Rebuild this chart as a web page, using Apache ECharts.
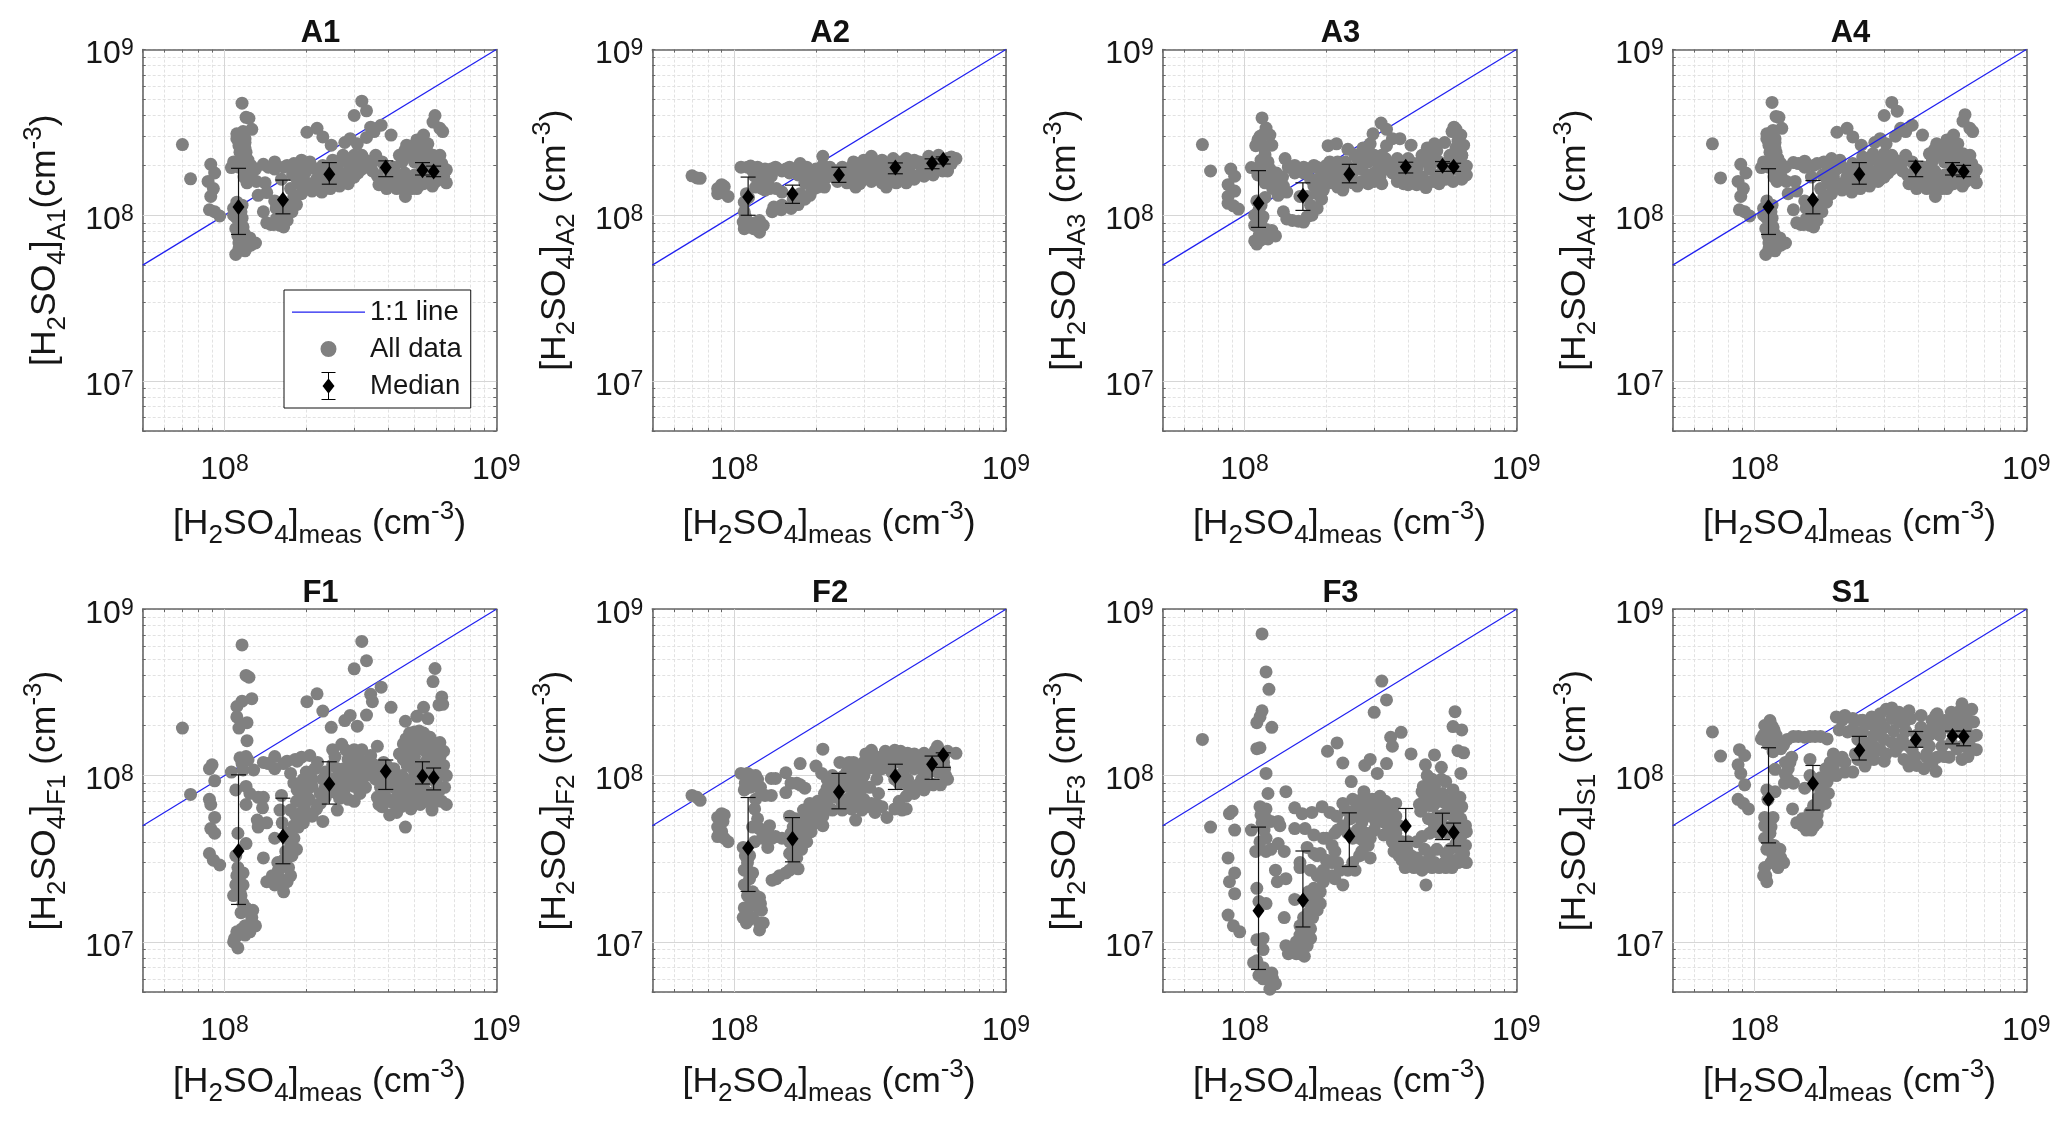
<!DOCTYPE html>
<html><head><meta charset="utf-8">
<script src="https://cdn.jsdelivr.net/npm/echarts@6/dist/echarts.min.js"></script>
<style>html,body{margin:0;padding:0;background:#fff}#c{width:2067px;height:1130px}</style>
</head><body><div id="c"></div>
<script>
// All concentrations below are in units of 1e8 cm^-3
const UNIT = 1e8;
const panelNames = ['A1','A2','A3','A4','F1','F2','F3','S1'];
const xMedian = [1.126,1.64,2.43,3.92,5.35,5.88];

const ptsA1 = [[.7,2.67],[.75,1.66],[.89,2.03],[.92,1.8],[.87,1.6],[.91,1.45],[.89,1.3],[.88,1.08],[.92,1.05],[.96,.99],[1.16,4.75],[1.2,3.9],[1.23,3.85],[1.26,3.3],[1.11,3.1],[1.17,3.2],[1.11,2.9],[1.19,2.75],[1.13,2.63],[1.19,2.55],[1.16,2.15],[1.22,2.15],[1.06,1.94],[1.13,1.95],[1.19,1.9],[1.21,1.57],[1.26,1.68],[1.31,1.6],[1.33,1.32],[1.43,1.37],[1.41,1.57],[1.3,1.9],[1.39,2.03],[1.53,2.1],[1.53,1.9],[1.7,2],[1.8,2.05],[1.92,2.15],[2.06,2.1],[1.62,1.65],[1.39,1.05],[1.53,1.22],[1.43,.9],[1.52,.88],[1.65,.85],[1.7,.93],[1.77,1.05],[1.84,1.16],[1.92,1.35],[2,1.57],[2.1,1.4],[2.28,1.38],[1.95,1.72],[1.87,1.57],[2.18,1.65],[1.11,1.2],[1.11,.96],[1.16,.96],[1.17,.85],[1.1,.83],[1.14,.71],[1.24,.73],[1.3,.68],[1.22,.65],[1.1,.58],[1.13,.63],[1.19,.61],[2.01,3.17],[2.19,3.35],[2.3,2.97],[2.47,2.65],[3.2,4.88],[3.33,4.27],[3,4],[3.77,3.5],[3.45,3.4],[3.33,2.95],[3.55,3.2],[4.1,3.05],[2.9,2.9],[2.77,2.75],[3.08,2.7],[2.5,2.15],[2.73,2.3],[3,2.3],[3.2,2.3],[2.6,1.9],[2.8,1.8],[3,2],[3.2,1.9],[3.4,1.95],[3.6,2.3],[2.5,1.65],[2.7,1.65],[2.3,1.75],[3.65,1.73],[3.7,1.53],[3.95,1.45],[4.3,1.45],[4.63,1.3],[4.05,1.8],[4.4,1.72],[4.8,1.6],[5.25,1.53],[5.82,1.5],[6.55,1.57],[6.55,1.88],[6.2,1.72],[5.7,1.72],[5.25,1.8],[6.2,2.3],[5.85,2.1],[5.4,2.1],[5,2.1],[4.5,2.1],[4.4,2.3],[4.68,2.65],[5.1,2.85],[5.4,3.05],[5.1,2.45],[5.55,2.45],[5.85,2.3],[5.95,4],[5.85,3.65],[6.2,3.35],[6.35,3.2]];
const fillA1 = [[2.2,1.85],[2.1,1.95],[2,1.85],[2.3,2],[2.4,1.9],[2.2,1.55],[2.35,1.55],[2.45,1.45],[2.55,1.55],[2.6,1.7],[2.65,2.1],[2.85,2.1],[2.95,1.9],[2.9,1.65],[3.1,2.1],[3.1,1.8],[3.3,2.15],[3.3,2],[3.5,2.1],[3.5,1.85],[2.65,1.5],[2.85,1.55],[3,1.7],[3.8,2.1],[3.9,1.95],[3.8,1.6],[4.1,1.55],[4.2,1.95],[4.3,1.65],[4.55,1.5],[4.6,1.8],[4.9,1.45],[5.1,1.45],[5,1.75],[5.4,1.55],[5.6,1.95],[5.6,1.6],[6,1.6],[6,1.85],[6.4,1.72],[6,2.1],[6.3,2.05],[5.2,2.3],[4.8,2.3],[5.6,2.7],[5.3,2.7],[4.9,2.6],[4.6,2.45],[5.7,2.15],[1.85,1.95],[1.65,1.95],[1.45,1.95],[1.25,2],[2,2],[1.95,1.9],[1.78,1.75],[1.85,1.65],[1.75,1.45],[1.8,1.3],[1.7,1.15],[1.65,1.05],[1.55,.95],[1.6,.87],[1.48,.88],[1.55,1.1],[1.15,3],[1.15,2.7],[1.19,2.9],[1.08,2.1],[1.2,2.4],[1.14,2.4],[1.25,1.85],[1.18,1.7],[1.08,1.1],[1.16,1.15],[1.08,1],[1.15,1.05],[1.14,.88],[1.12,.75],[1.18,.78],[1.17,.67],[1.25,.66],[1.13,.68]];
const ptsA2 = [[.7,1.73],[.73,1.68],[.75,1.67],[.9,1.53],[.87,1.45],[.92,1.49],[.87,1.35],[.95,1.3],[.91,1.4],[1.06,1.95],[1.12,1.95],[1.22,1.95],[1.19,1.72],[1.26,1.57],[1.2,1.48],[1.3,1.42],[1.37,1.9],[1.45,1.9],[1.55,1.9],[1.37,1.72],[1.33,1.57],[1.43,1.45],[1.5,1.38],[1.75,2.05],[1.6,1.8],[1.72,1.75],[1.87,1.8],[2,1.9],[2.12,2.27],[2.12,2],[1.11,1.35],[1.09,1.2],[1.09,1.05],[1.08,.91],[1.09,.83],[1.16,.87],[1.24,.93],[1.28,.87],[1.24,.79],[1.38,1.05],[1.49,1.08],[1.62,1.1],[1.72,1.16],[1.82,1.25],[1.9,1.32],[1.92,1.48],[1.82,1.57],[2.03,1.48],[2.15,1.48],[1.98,1.65],[2.2,1.7],[2.25,1.95],[2.4,1.72],[2.4,1.6],[2.6,1.57],[2.8,1.48],[2.6,1.8],[2.75,2.1],[2.95,2.05],[2.9,1.72],[3.1,1.72],[3.2,2.27],[3.4,2.1],[3.63,1.48],[3.4,1.72],[3.7,1.72],[3.5,1.57],[3.95,1.57],[4.3,1.57],[4.6,1.65],[5,1.72],[5.4,1.75],[6.1,1.85],[3.85,2.2],[4.3,2.2],[4.6,2.15],[5.2,2.27],[5.65,2.3],[6.1,2.2],[6.55,2.2],[4.4,1.9],[4.9,1.95],[5.65,2],[4.05,1.9]];
const fillA2 = [[2.3,1.75],[2.5,1.95],[2.5,1.7],[2.7,1.95],[2.7,1.65],[2.85,1.85],[2.9,1.55],[3,1.95],[3,2.15],[3.2,1.95],[3.2,1.6],[3.3,1.85],[3.5,2.15],[3.5,1.95],[3.6,1.8],[3.8,2],[3.85,1.7],[4.1,2.1],[4.15,1.75],[4.5,2.05],[4.5,1.75],[4.8,2.1],[4.8,1.75],[5.1,2.05],[5.3,1.95],[5.5,2.15],[5.8,2.05],[5.85,1.85],[6.3,2.05],[6.3,2.25],[2.2,1.9],[2.35,1.85],[1.15,1.98],[1.17,1.85],[1.25,1.75],[1.3,1.9],[1.3,1.6],[1.42,1.95],[1.5,1.85],[1.6,1.95],[1.68,1.9],[1.85,1.95],[1.9,1.65],[2.05,1.7],[2.05,1.6],[1.97,1.45],[1.75,1.35],[1.65,1.25],[1.5,1.15],[1.4,1.12],[1.1,.98],[1.13,.91],[1.2,.9],[1.18,.83],[1.13,1.28],[1.35,1.45],[1.27,1.45]];
const ptsA3 = [[.7,2.67],[.75,1.85],[.89,1.9],[.92,1.72],[.87,1.53],[.92,1.4],[.87,1.18],[.95,1.09],[.91,1.14],[.87,1.3],[1.16,3.87],[1.2,3.36],[1.14,3],[1.24,3.05],[1.1,2.63],[1.26,2.65],[1.19,2.32],[1.41,2.2],[1.06,1.94],[1.14,1.95],[1.24,1.9],[1.19,1.57],[1.31,1.8],[1.35,1.6],[1.39,1.5],[1.33,1.32],[1.43,1.38],[1.11,1.22],[1.19,1.28],[1.09,1],[1.17,.98],[1.09,.87],[1.14,.8],[1.26,.81],[1.3,.75],[1.22,.72],[1.11,.67],[1.15,.71],[1.53,2],[1.53,1.8],[1.65,1.95],[1.8,2],[1.85,1.95],[2.06,2.1],[2.2,2.1],[1.39,1.05],[1.43,.95],[1.58,.92],[1.65,.91],[1.77,1],[1.85,1.1],[1.92,1.25],[1.95,1.42],[1.6,1.3],[1.85,1.65],[1.95,1.72],[2.05,1.57],[1.9,1.53],[2.3,1.42],[2.2,1.48],[2.03,2.63],[2.18,2.7],[2.4,2.5],[2.55,2.32],[2.73,2.55],[2.97,3.1],[3.18,3.6],[3.33,3.3],[3.5,2.9],[3.73,2.9],[4.1,2.65],[3.33,2.63],[2.9,2.7],[2.6,2.2],[3,2.3],[3.3,2.2],[2.7,1.9],[3,1.8],[3.3,1.9],[2.7,1.6],[3,1.6],[2.5,1.8],[2.5,1.57],[3.5,1.8],[3.65,2.2],[4,2.2],[3.65,1.6],[4,1.53],[4.3,1.53],[4.65,1.47],[5,1.6],[5.5,1.65],[5.85,1.6],[6.55,1.75],[6.55,1.98],[6,1.9],[5.4,1.9],[4.8,1.9],[4.3,1.9],[4.7,2.55],[5.45,2.75],[5.1,2.45],[5.7,2.3],[6.3,2.3],[5.8,3.2],[5.9,3.4],[6.25,3.05],[6.4,2.65],[6,2.55]];
const fillA3 = [[2.1,1.9],[2.2,1.9],[2.35,2.1],[2.4,1.95],[2.3,1.7],[2.15,1.7],[2.4,1.6],[2.6,1.5],[2.6,1.95],[2.8,2.4],[2.85,2.1],[2.85,1.75],[2.85,1.55],[3.1,2.05],[3.15,1.7],[3.2,2.3],[3.45,2.05],[3.2,1.55],[3.7,1.95],[3.9,1.95],[3.85,1.7],[3.85,1.55],[4.1,1.75],[4.2,2.05],[4.5,2.3],[4.5,1.7],[4.45,2.1],[4.8,2.4],[4.8,2.15],[4.85,1.6],[5.1,1.75],[5.2,2.1],[5.2,1.55],[5.6,2.05],[5.6,1.75],[6,2.1],[6.2,1.85],[6.3,1.65],[6,3.3],[6.1,2.8],[6.3,2.3],[5,2.7],[1.45,1.95],[1.65,1.8],[1.72,1.9],[1.95,1.9],[2,2],[1.75,1.65],[1.7,1.3],[1.8,1.5],[1.5,.93],[1.7,.98],[1.75,1.15],[1.85,1.35],[1.15,2.75],[1.18,3.1],[1.12,2.85],[1.18,2.55],[1.22,2.1],[1.15,2.15],[1.2,1.75],[1.28,1.65],[1.12,1.75],[1.27,1.45],[1.38,1.7],[1.15,1.15],[1.13,1.08],[1.15,.92],[1.12,.85],[1.2,.74],[1.13,.75],[1.2,.82],[1.09,.7]];
const ptsA4 = [[.7,2.7],[.75,1.68],[.89,2.03],[.93,1.8],[.87,1.6],[.91,1.45],[.89,1.3],[.88,1.08],[.92,1.05],[.96,.99],[1.16,4.8],[1.2,3.95],[1.23,3.9],[1.26,3.35],[1.11,3.1],[1.17,3.25],[1.11,2.9],[1.19,2.75],[1.13,2.65],[1.19,2.55],[1.16,2.2],[1.22,2.2],[1.06,1.94],[1.13,1.95],[1.19,1.9],[1.21,1.6],[1.26,1.68],[1.31,1.6],[1.33,1.35],[1.43,1.4],[1.41,1.6],[1.3,1.95],[1.39,2.08],[1.53,2.12],[1.53,1.95],[1.7,2.05],[1.8,2.1],[1.92,2.2],[2.06,2.15],[1.62,1.7],[1.39,1.08],[1.53,1.22],[1.43,.9],[1.52,.88],[1.65,.85],[1.7,.93],[1.77,1.05],[1.84,1.2],[1.92,1.35],[2,1.57],[2.1,1.42],[2.28,1.38],[1.95,1.72],[1.87,1.57],[2.18,1.68],[1.11,1.22],[1.11,.96],[1.16,.96],[1.17,.85],[1.1,.83],[1.14,.71],[1.24,.73],[1.3,.68],[1.22,.65],[1.1,.58],[1.13,.63],[1.19,.61],[2.01,3.17],[2.19,3.35],[2.3,2.97],[2.47,2.65],[3.2,4.8],[3.35,4.25],[3,4],[3.8,3.5],[3.45,3.35],[3.3,3],[3.6,3.2],[4.15,3.05],[2.9,2.9],[2.77,2.75],[3.05,2.7],[2.5,2.25],[2.73,2.35],[3,2.35],[3.2,2.3],[2.6,1.95],[2.8,1.85],[3,2],[3.2,1.9],[3.4,2],[3.6,2.3],[2.5,1.7],[2.7,1.7],[2.3,1.75],[3.65,1.75],[3.7,1.55],[3.95,1.45],[4.3,1.45],[4.63,1.3],[4.05,1.8],[4.4,1.72],[4.8,1.6],[5.25,1.53],[5.82,1.5],[6.55,1.57],[6.55,1.88],[6.2,1.72],[5.7,1.72],[5.25,1.8],[6.2,2.3],[5.85,2.1],[5.4,2.1],[5,2.1],[4.5,2.1],[4.4,2.35],[4.68,2.7],[5.1,2.85],[5.4,3.05],[5.1,2.45],[5.55,2.45],[5.85,2.35],[5.95,4.05],[5.85,3.7],[6.2,3.35],[6.35,3.2]];
const fillA4 = [[2.2,1.9],[2.1,1.95],[2,1.9],[2.3,2.05],[2.4,1.95],[2.2,1.55],[2.35,1.6],[2.45,1.45],[2.55,1.55],[2.6,1.75],[2.65,2.15],[2.85,2.15],[2.95,1.9],[2.9,1.65],[3.1,2.15],[3.1,1.8],[3.3,2.15],[3.3,2.05],[3.5,2.1],[3.5,1.85],[2.65,1.5],[2.85,1.6],[3,1.7],[3.8,2.1],[3.9,1.95],[3.8,1.6],[4.1,1.55],[4.2,1.95],[4.3,1.65],[4.55,1.5],[4.6,1.85],[4.9,1.45],[5.1,1.45],[5,1.75],[5.4,1.55],[5.6,1.95],[5.6,1.6],[6,1.6],[6,1.85],[6.4,1.72],[6,2.1],[6.3,2.05],[5.2,2.3],[4.8,2.3],[5.6,2.7],[5.3,2.7],[4.9,2.6],[4.6,2.5],[5.7,2.15],[1.85,2],[1.65,2],[1.45,2.05],[1.25,2.05],[2,2.05],[1.95,1.9],[1.78,1.75],[1.85,1.65],[1.75,1.45],[1.8,1.3],[1.7,1.15],[1.65,1.05],[1.55,.95],[1.6,.87],[1.48,.88],[1.55,1.1],[1.15,3],[1.15,2.7],[1.19,2.9],[1.08,2.1],[1.2,2.4],[1.14,2.4],[1.25,1.85],[1.18,1.7],[1.08,1.1],[1.16,1.15],[1.08,1],[1.15,1.05],[1.14,.88],[1.12,.75],[1.18,.78],[1.17,.67],[1.25,.66],[1.13,.68]];
const ptsF1 = [[.7,1.93],[.75,.77],[.9,1.16],[.88,1.1],[.92,.93],[.88,.72],[.89,.67],[.92,.56],[.89,.48],[.92,.45],[.88,.34],[.91,.31],[.96,.29],[1.16,6.1],[1.2,4],[1.23,3.9],[1.26,2.9],[1.16,2.8],[1.11,2.6],[1.11,2.25],[1.21,2.08],[1.13,1.93],[1.21,1.62],[1.14,1.28],[1.22,1.24],[1.06,1.05],[1.17,1.08],[1.28,1.08],[1.1,.82],[1.2,.86],[1.24,.78],[1.2,.67],[1.33,.74],[1.39,.74],[1.38,.64],[1.32,.54],[1.43,.52],[1.33,.49],[1.12,.45],[1.2,.39],[1.39,.32],[1.1,.33],[1.17,.26],[1.11,.25],[1.17,.22],[1.08,.19],[1.15,.19],[1.22,.155],[1.26,.14],[1.3,.125],[1.15,.15],[1.24,.115],[1.11,.115],[1.08,.1],[1.12,.092],[1.19,.125],[1.39,1.2],[1.53,1.3],[1.53,1.1],[1.7,1.22],[1.82,1.25],[1.92,1.29],[2.06,1.32],[1.75,1.03],[1.62,.76],[1.6,.62],[1.53,.42],[1.63,.52],[1.43,.23],[1.53,.22],[1.65,.2],[1.7,.23],[1.58,.27],[1.65,.31],[1.57,.3],[1.77,.33],[1.84,.36],[1.8,.42],[1.87,.49],[1.95,.52],[2.1,.57],[2.3,.53],[2.18,.63],[1.84,.7],[1.92,.78],[1.8,.9],[2.1,.86],[1.97,.67],[2.25,.78],[2.01,2.78],[2.19,3.1],[2.3,2.44],[2.47,1.95],[3.2,6.4],[3.33,4.9],[3,4.38],[3.77,3.4],[3.45,3.08],[3.5,2.78],[3.33,2.31],[4.1,2.57],[2.9,2.3],[2.77,2.14],[3.08,1.98],[4.63,2.12],[5.1,2.27],[5.4,2.57],[5.6,2.2],[5.95,4.4],[5.85,3.67],[6.3,2.97],[6.35,2.68],[6.15,2.66],[2.5,1.43],[2.7,1.54],[3,1.43],[3.2,1.43],[3.65,1.5],[2.5,1.16],[2.85,1.25],[3.2,1.22],[3.55,1.16],[3.85,1.2],[2.65,1],[3,1.05],[3,.86],[3,.7],[2.6,.62],[2.35,.74],[2.8,.86],[3.3,1],[3.65,.74],[3.7,.67],[4.05,.58],[4.3,.6],[4.63,.49],[4,.86],[4.3,.74],[4.85,.63],[5.25,.67],[5.8,.62],[6.55,.67],[6.55,1],[6.2,.82],[5.7,.78],[5.2,.78],[4.5,1],[4.4,1.35],[5,1.83],[4.65,1.66],[5.4,1.8],[5.85,1.58],[6.2,1.58],[6.2,1.29],[5.6,1.29],[5.1,1.43],[5.75,1.1],[4.2,1.1],[4.85,.82]];
const fillF1 = [[2,1.05],[2.2,1.2],[2.35,1.05],[2.1,.95],[2.05,.72],[2.25,.68],[2.4,.9],[2.5,.8],[2.75,1.1],[2.85,.95],[2.9,1.1],[3.1,1.3],[3.2,1.05],[3.3,.85],[3.4,1.2],[3.5,1],[3.15,.78],[2.85,.72],[2.65,.73],[2.5,.95],[3.6,.95],[3.8,.95],[3.9,.75],[3.85,1.05],[3.8,.65],[4.2,.85],[4.1,1],[4.3,.95],[4.45,.65],[4.5,.85],[4.65,.75],[4.7,1.15],[4.9,.95],[5.05,.72],[5.3,.9],[5.5,.7],[5.5,1.05],[6,.7],[6,.92],[6.3,.7],[6.45,.85],[6.4,1.15],[5.9,1.15],[5.3,1.15],[5,1.3],[4.7,1.4],[4.55,1.55],[4.9,1.55],[5.3,1.6],[5.6,1.55],[5.9,1.35],[5.2,1.85],[4.8,1.8],[6.4,1.4],[1.95,.95],[1.82,.58],[2,.6],[1.75,.62],[1.92,.6],[1.8,.5],[1.75,.39],[1.7,.45],[1.68,.35],[1.72,.28],[1.6,.24],[1.5,.25],[1.62,.22],[1.75,.25],[1.85,.82],[1.95,.85],[1.85,1.22],[1.65,1.18],[1.45,1.18],[1.2,1.3],[1.16,1.18],[1.1,.22],[1.14,.2],[1.17,.17],[1.2,.16],[1.27,.155],[1.27,.125],[1.19,.11],[1.12,.11],[1.09,.105],[1.16,.12],[1.12,.28],[2.15,1.1],[2.3,.95],[2.35,.85],[2.6,1.1],[2.6,.88],[2.75,.8],[2.95,.95],[3.05,1.15],[3.2,.92],[3.35,1.1],[3.45,1.32],[2.55,1.3],[2.8,1.42],[2.95,1.3],[3.6,1.08],[3.75,.85],[3.95,1.15],[4,.7],[4.2,.68],[4.4,.75],[4.4,.95],[4.6,.9],[4.8,.72],[5,.85],[5.2,1],[5.45,.82],[5.7,.95],[5.95,.8],[6.1,1.05],[5,1.05],[4.55,1.25],[4.85,1.2],[5.5,1.4],[5.7,1.7],[5.1,1.65],[6,1.5],[5.5,1.2],[2,.8],[1.88,.72]];
const ptsF2 = [[.7,.76],[.73,.74],[.75,.71],[.9,.59],[.92,.58],[.87,.56],[.87,.49],[.91,.53],[.9,.46],[.87,.43],[.92,.42],[.95,.4],[1.06,1.03],[1.12,1.03],[1.22,.95],[1.09,.82],[1.17,.86],[1.26,.78],[1.37,.96],[1.55,1.04],[1.37,.76],[1.55,.79],[1.62,.9],[1.75,1.18],[1.75,.88],[1.82,.84],[1.19,.63],[1.17,.49],[1.24,.48],[1.33,.46],[1.38,.42],[1.33,.37],[1.5,.42],[1.19,.4],[1.08,.37],[1.14,.33],[1.09,.27],[1.17,.26],[1.09,.22],[1.12,.19],[1.24,.185],[1.09,.16],[1.08,.14],[1.11,.13],[1.17,.14],[1.26,.155],[1.28,.13],[1.24,.118],[1.38,.235],[1.47,.25],[1.6,.27],[1.72,.275],[1.6,.34],[1.6,.4],[1.65,.49],[1.6,.57],[1.77,.36],[1.85,.4],[1.87,.46],[1.87,.57],[2,.52],[2.12,.5],[1.9,.68],[2.03,.7],[2.2,.84],[2.12,.57],[2.12,1.44],[2,1.14],[2.1,1.03],[2.3,1],[2.45,1.2],[2.3,.62],[2.5,.62],[2.35,.74],[2.7,.63],[2.8,.54],[2.95,.62],[2.8,.7],[2.8,.86],[3,.86],[2.75,1.2],[3,1.2],[3.2,1.42],[3.5,1.3],[3.9,1.42],[2.8,1],[3,1],[3.35,.67],[3.65,.56],[3.9,.63],[4.3,.63],[4.05,.7],[3.4,.78],[3.5,1.1],[4.05,.9],[4.35,1.36],[4.35,.95],[4.6,.78],[4.9,.95],[5,1.36],[4.6,1.1],[5.4,.88],[5.75,.88],[6.1,.95],[5.6,1.5],[6.1,1.4],[6.55,1.36],[5.25,1.2],[5.95,1.1]];
const fillF2 = [[1.15,1],[1.1,.9],[1.2,1],[1.25,.85],[1.3,.76],[1.42,.96],[1.7,.9],[1.14,.85],[1.2,.72],[1.22,.55],[1.27,.46],[1.35,.5],[1.42,.43],[1.27,.42],[1.12,.3],[1.14,.24],[1.1,.33],[1.12,.27],[1.17,.2],[1.2,.19],[1.12,.16],[1.2,.165],[1.15,.17],[1.25,.17],[1.13,.135],[1.24,.13],[1.43,.24],[1.55,.26],[1.66,.29],[1.65,.32],[1.7,.32],[1.65,.37],[1.62,.45],[1.72,.42],[1.72,.52],[1.78,.47],[1.68,.55],[1.8,.55],[1.92,.46],[1.95,.58],[1.95,.64],[2.07,.62],[2.12,.64],[2.2,.7],[2.3,.76],[2.4,.88],[2.2,.95],[2.5,.98],[2.6,.95],[2.6,.86],[2.9,.78],[2.7,.74],[2.62,.66],[2.6,1.05],[2.85,1.1],[3.1,1.1],[3.2,1.25],[3.15,.85],[3.3,1.3],[3.7,1.2],[3.6,1.4],[3.8,1.05],[3.9,.95],[4.1,1.2],[4.2,1.05],[4.5,1.25],[4.8,1.25],[4.5,.85],[4.75,.88],[5,1.15],[5.1,.88],[5.2,1.3],[5.4,1.1],[5.7,1.2],[5.9,1.3],[5.5,1.42],[4.1,1.4],[3,.72],[3.2,.68],[3.5,.65],[4.15,.62],[3.35,.95],[1.8,.62],[1.75,.5],[1.9,.52],[2,.6],[2.3,.9],[2.65,1.2],[2.95,1.1],[3.3,1.1],[3.4,1.22],[3.9,1.2],[3.8,1.3],[4.3,1.2],[4.6,1.35],[4.9,1.15],[5.2,1.05],[5.5,1.25],[5.6,1.05],[5.9,1.2],[6,1],[3.05,1.35],[2.9,.95],[2.7,.95],[3.1,.65],[3.3,.6],[4.3,.75],[4.4,.85],[5,1],[5,.82],[2.6,.72],[2.5,.68],[2.15,.78]];
const ptsF3 = [[.7,1.65],[.75,.49],[.9,.61],[.88,.59],[.92,.47],[.87,.32],[.92,.26],[.88,.23],[.92,.195],[.87,.145],[.91,.125],[.96,.115],[1.16,7.1],[1.2,4.2],[1.23,3.3],[1.16,2.45],[1.14,2.25],[1.11,2.08],[1.26,1.95],[1.11,1.45],[1.14,1.47],[1.2,1.03],[1.22,.78],[1.42,.8],[1.14,.65],[1.2,.63],[1.06,.47],[1.16,.52],[1.33,.53],[1.35,.5],[1.2,.42],[1.1,.35],[1.2,.35],[1.33,.39],[1.4,.35],[1.3,.27],[1.32,.23],[1.42,.24],[1.11,.21],[1.13,.175],[1.2,.17],[1.4,.14],[1.17,.105],[1.11,.103],[1.17,.09],[1.11,.077],[1.08,.075],[1.15,.065],[1.26,.065],[1.17,.06],[1.3,.056],[1.24,.052],[1.13,.063],[1.53,.64],[1.63,.59],[1.77,.6],[1.93,.65],[2.06,.6],[2.18,.57],[1.53,.48],[1.67,.48],[1.8,.44],[1.95,.42],[2.1,.38],[1.6,.3],[1.6,.28],[1.53,.18],[1.8,.34],[1.9,.34],[1.85,.25],[2,.25],[2.15,.24],[2.3,.22],[1.9,.2],[1.8,.17],[1.85,.155],[1.7,.13],[1.75,.12],[1.6,.11],[1.67,.095],[1.42,.095],[1.5,.088],[1.66,.082],[1.6,.125],[2.02,1.4],[2.19,1.57],[2.3,1.19],[2.47,.92],[3.2,3.7],[3.33,2.85],[3,2.4],[3.77,1.82],[3.45,1.7],[3.5,1.5],[3.33,1.18],[4.1,1.35],[2.9,1.25],[2.77,1.15],[3.08,1.03],[4.63,1.16],[5,1.33],[5.3,1.12],[5.95,2.42],[5.85,1.97],[6.3,1.88],[6.1,1.41],[6.4,1.37],[6.25,1.03],[2.5,.72],[2.75,.8],[3.05,.72],[3.3,.7],[3.6,.68],[2.6,.57],[2.9,.57],[3.25,.57],[3.6,.57],[2.6,.47],[2.9,.42],[3.05,.52],[2.65,.33],[2.9,.32],[2.55,.27],[2.75,.4],[3.25,.44],[3.5,.4],[3.7,.33],[3.9,.28],[4.2,.28],[4.5,.27],[4.65,.22],[3.95,.36],[4.3,.4],[5,.3],[5.8,.28],[6.55,.3],[6.55,.46],[6.2,.36],[5.5,.34],[4.8,.34],[4.45,.61],[4.7,1],[4.55,.86],[5,.86],[5.35,.78],[5.85,.82],[6.2,.74],[5.7,.62],[5.1,.57],[4.8,.66]];
const fillF3 = [[2.3,.68],[2.55,.62],[2.7,.72],[2.85,.65],[3,.65],[3.15,.75],[3.2,.62],[2.7,.52],[2.8,.45],[3,.47],[3.4,.62],[3.45,.52],[3.4,.47],[2.7,.35],[2.4,.45],[2.3,.5],[2.2,.47],[2,.42],[2.15,.35],[2,.31],[1.85,.33],[1.7,.37],[1.75,.27],[1.95,.23],[2.1,.25],[1.8,.21],[1.72,.2],[1.78,.14],[1.72,.15],[1.68,.11],[1.75,.105],[1.55,.1],[1.62,.09],[1.45,.085],[1.6,.085],[1.7,.095],[3.7,.5],[3.8,.4],[3.6,.45],[4,.3],[4.1,.33],[4.3,.32],[4.55,.3],[4.7,.3],[5.2,.28],[5.45,.3],[6.1,.3],[6.4,.34],[6.3,.44],[6,.39],[5.7,.36],[5.1,.36],[4.6,.36],[4.5,.43],[4.8,.45],[5.2,.45],[5.6,.45],[6,.5],[6.25,.55],[6.3,.65],[5.95,.7],[5.5,.68],[5.4,.58],[4.95,.66],[4.6,.72],[4.5,.8],[4.9,.95],[4.85,.78],[5.2,.7],[5.8,.58],[4.4,.67],[1.15,.58],[1.2,.55],[1.18,.47],[1.25,.53],[1.14,.4],[1.25,.36],[1.17,.07],[1.2,.06],[1.24,.058],[1.22,.065],[1.27,.06],[2.45,.55],[2.35,.62],[2.65,.65],[2.8,.6],[2.95,.72],[3.1,.6],[3.3,.52],[3.5,.62],[2.5,.42],[2.65,.42],[2.85,.38],[2.5,.3],[2.4,.27],[2.2,.3],[2.1,.3],[2.25,.27],[1.95,.27],[2.15,.45],[3.55,.35],[3.8,.31],[3.75,.37],[4,.4],[4.4,.3],[4.9,.28],[5.5,.28],[5.6,.31],[6,.31],[6.5,.38],[6.5,.5],[6.2,.5],[5.8,.5],[5.4,.5],[5,.5],[4.75,.55],[4.95,.77],[5.5,.92],[5.3,.95],[5.8,.72],[6.1,.62],[1.9,.17],[1.82,.19],[1.7,.175],[1.65,.14],[1.6,.105],[1.55,.085]];
const ptsS1 = [[.7,1.83],[.75,1.31],[.88,1.43],[.92,1.32],[.87,1.16],[.89,1.03],[.92,.88],[.87,.72],[.91,.68],[.95,.63],[1.14,2.14],[1.09,2],[1.18,1.88],[1.06,1.66],[1.14,1.66],[1.22,1.62],[1.28,1.53],[1.39,1.72],[1.53,1.7],[1.67,1.72],[1.85,1.66],[1.17,1.39],[1.37,1.29],[1.33,1.1],[1.19,1.09],[1.33,.95],[1.39,.9],[1.29,.9],[1.11,.82],[1.19,.8],[1.12,.72],[1.38,.63],[1.09,.56],[1.17,.56],[1.09,.42],[1.15,.49],[1.11,.36],[1.24,.36],[1.17,.33],[1.28,.3],[1.22,.28],[1.09,.28],[1.08,.25],[1.11,.23],[1.6,1.25],[1.6,1],[1.53,.84],[1.43,.52],[1.5,.5],[1.62,.47],[1.7,.52],[1.6,.6],[1.72,.63],[1.8,.74],[1.87,.78],[1.8,.9],[1.9,1],[1.83,1.1],[1.95,1.35],[2.1,1.29],[2,1],[2.3,1.05],[2.15,1.2],[2,2.25],[2.15,2.3],[2.45,2.14],[2.05,1.88],[2.2,1.83],[2.5,1.83],[2.35,1.35],[2.55,1.14],[2.75,1.25],[3,1.22],[2.7,2.25],[2.9,2.35],[3.2,2.55],[3.05,2.5],[3.4,2.4],[3.7,2.45],[4.1,2.3],[3.6,2.14],[2.9,1.75],[3.2,1.58],[3.5,1.66],[2.9,1.43],[2.55,1.58],[3.55,1.25],[3.7,1.14],[4.2,1.1],[4.65,1.06],[3.8,1.43],[4.3,1.29],[4.7,1.29],[5.2,1.29],[5.8,1.25],[6.55,1.43],[6.55,1.75],[6.2,1.5],[4.8,1.75],[4.4,1.75],[4.65,2.3],[5.3,2.4],[5,2.14],[5.8,2.7],[6.3,2.5],[6.15,2.14],[5.8,2.14],[4.5,1.92],[5.3,1.58],[5.8,1.83]];
const fillS1 = [[1.16,1.98],[1.12,1.85],[1.2,1.75],[1.32,1.65],[1.12,1.55],[1.08,1.75],[1.18,1.55],[1.25,1.45],[1.45,1.72],[1.6,1.72],[1.75,1.72],[1.3,1.2],[1.35,1.2],[1.3,1.02],[1.14,.52],[1.09,.5],[1.14,.45],[1.12,.4],[1.18,.38],[1.2,.33],[1.15,.3],[1.25,.32],[1.1,.25],[1.2,.31],[1.5,.55],[1.55,.47],[1.62,.55],[1.65,.66],[1.7,.58],[1.75,.7],[1.82,.68],[1.75,.82],[1.85,.92],[1.75,.97],[1.9,1.2],[2,1.22],[1.95,1.1],[2.15,1.05],[1.72,.74],[1.66,.5],[2.1,2.15],[2.3,2.2],[2.6,2.05],[2.3,1.9],[2.4,1.65],[2.55,1.4],[2.4,1.25],[2.65,1.25],[2.75,2],[2.75,1.75],[2.75,1.5],[2.65,1.35],[2.9,2.1],[3,1.95],[3,1.65],[3.05,1.35],[3.2,2.2],[3.25,1.85],[3.4,2.1],[3.4,1.5],[3.6,1.85],[3.3,1.4],[3.75,2.2],[3.7,1.5],[3.9,1.3],[3.95,1.15],[3.95,1.75],[4.15,1.6],[4.1,1.95],[4.4,1.5],[4.5,1.2],[4.5,2.15],[4.85,2.05],[4.9,1.5],[5,1.95],[5,1.3],[5.3,2.05],[5.4,1.8],[5.55,1.45],[5.6,2.4],[5.8,1.5],[6,2.4],[6,1.9],[6.1,1.3],[6.3,1.7],[6.4,2.1],[5.6,2.1],[4.7,2.35],[4.3,1.35],[2.5,2.15]];

const medA1=[1.12,1.24,1.77,1.94,1.87,1.84], hiA1=[1.92,1.63,2.08,2.13,2.08,1.98], loA1=[.766,1.02,1.54,1.71,1.75,1.71];
const medA2=[1.29,1.345,1.75,1.94,2.06,2.16], hiA2=[1.7,1.52,1.95,2.07,2.19,2.25], loA2=[1,1.18,1.58,1.78,1.91,2.04];
const medA3=[1.18,1.31,1.77,1.96,1.99,1.96], hiA3=[1.86,1.57,2.03,2.09,2.11,2.06], loA3=[.845,1.07,1.57,1.8,1.84,1.84];
const medA4=[1.12,1.24,1.77,1.95,1.88,1.84], hiA4=[1.91,1.62,2.08,2.12,2.08,2], loA4=[.766,1.02,1.54,1.71,1.75,1.71];
const medF1=[.352,.43,.89,1.06,.99,.97], hiF1=[1.01,.731,1.21,1.24,1.21,1.11], loF1=[.168,.295,.674,.825,.89,.82];
const medF2=[.367,.417,.796,.99,1.17,1.33], hiF2=[.738,.559,1.03,1.17,1.31,1.37], loF2=[.201,.303,.631,.825,.95,1.12];
const medF3=[.154,.178,.432,.497,.463,.454], hiF3=[.49,.352,.597,.634,.594,.518], loF3=[.0683,.123,.284,.402,.412,.378];
const medS1=[.72,.895,1.42,1.64,1.73,1.72], hiS1=[1.47,1.15,1.72,1.84,1.85,1.85], loS1=[.394,.62,1.24,1.48,1.55,1.51];

const lineEnds = [.5,10];
const xTickValues = [.5,.6,.7,.8,.9,1,2,3,4,5,6,7,8,9,10];
const yTickValues = [.05,.06,.07,.08,.09,.1,.2,.3,.4,.5,.6,.7,.8,.9,1,2,3,4,5,6,7,8,9,10];
const xLabelValues = [1,10];
const yLabelValues = [.1,1,10];
const xMajorGrid = [1];
const yMajorGrid = [.1,1];

const points = {A1:ptsA1.concat(fillA1),A2:ptsA2.concat(fillA2),A3:ptsA3.concat(fillA3),A4:ptsA4.concat(fillA4),F1:ptsF1.concat(fillF1),F2:ptsF2.concat(fillF2),F3:ptsF3.concat(fillF3),S1:ptsS1.concat(fillS1)};
const med = {A1:medA1,A2:medA2,A3:medA3,A4:medA4,F1:medF1,F2:medF2,F3:medF3,S1:medS1};
const hi = {A1:hiA1,A2:hiA2,A3:hiA3,A4:hiA4,F1:hiF1,F2:hiF2,F3:hiF3,S1:hiS1};
const lo = {A1:loA1,A2:loA2,A3:loA3,A4:loA4,F1:loF1,F2:loF2,F3:loF3,S1:loS1};

const lefts = [142.7,652.3,1162.7,1672.7];
const tops = [49.6,609.2];
const W = 353.6, Hs = [381.2,382.8];
const FONT = '"Liberation Sans", Arial, sans-serif';
const TXT = '#161616', GREY = '#808080', BLUE = '#2020f0', FRAME = '#666666', GRID = '#e2e2e2', GRIDMAJOR = '#d6d6d6';
const sc = v => v*UNIT;

const nameRich = {
  s:{fontFamily:FONT,fontSize:26,color:TXT,verticalAlign:'bottom',lineHeight:25},
  u:{fontFamily:FONT,fontSize:26,color:TXT,verticalAlign:'top',lineHeight:25}
};
const nameStyle = {fontFamily:FONT,fontSize:35.5,color:TXT,lineHeight:50,rich:nameRich};
const tickRich = {
  b:{fontFamily:FONT,fontSize:32,color:TXT,verticalAlign:'bottom',lineHeight:33},
  e:{fontFamily:FONT,fontSize:23,color:TXT,verticalAlign:'top',lineHeight:22}
};
const tickFmt = v => `{b|10}{e|${Math.round(Math.log10(v))}}`;

const opt = {animation:false,backgroundColor:'#fff',
  title:[],grid:[],xAxis:[],yAxis:[],series:[],
  legend:{show:true,left:284,top:290,orient:'vertical',selectedMode:false,
    backgroundColor:'#fff',borderColor:'#111',borderWidth:1,padding:[8,9,8,8],
    itemWidth:73,itemHeight:28,itemGap:9,
    textStyle:{fontFamily:FONT,fontSize:27.5,color:TXT},z:20,
    data:[
      {name:'1:1 line',icon:'path://M0 0L0 0ZM73 28L73 28ZM0 13.5L73 13.5L73 14.7L0 14.7Z',itemStyle:{color:BLUE}},
      {name:'All data',icon:'path://M0 0L0 0ZM73 28L73 28ZM28.5 14A8 8 0 1 1 44.5 14A8 8 0 1 1 28.5 14Z',itemStyle:{color:GREY}},
      {name:'Median',icon:'path://M0 0L0 0ZM73 28L73 28ZM29.5 0L43.5 0L43.5 1L37 1L37 7L42.5 14L37 21L37 27L43.5 27L43.5 28L29.5 28L29.5 27L36 27L36 21L30.5 14L36 7L36 1L29.5 1Z',itemStyle:{color:'#000'}}
    ]}
};

panelNames.forEach((p,i)=>{
  const col=i%4,row=i<4?0:1,h=Hs[row];
  opt.title.push({text:p,left:lefts[col]+W/2-4,top:tops[row]-36.5,textAlign:'center',
    textStyle:{fontFamily:FONT,fontSize:31,fontWeight:'bold',color:'#111'}});
  opt.grid.push({left:lefts[col],top:tops[row],width:W,height:h,containLabel:false});
  const axisBase={type:'log',gridIndex:i,axisLine:{show:true,onZero:false,lineStyle:{color:FRAME,width:1.6}}};
  const tick=(vals)=>({show:true,inside:true,length:3,customValues:vals.map(sc),lineStyle:{color:FRAME,width:1}});
  const gridStyle={show:true,lineStyle:{color:GRID,width:1,type:[3,2]}};
  const xN={...axisBase,min:sc(.5),max:sc(10),position:'bottom',
    name:'[H{s|2}SO{s|4}]{s|meas} (cm{u|-3})',nameLocation:'middle',nameGap:row?65:68,nameTextStyle:nameStyle,
    axisTick:tick(xTickValues),splitLine:gridStyle,
    axisLabel:{show:true,margin:22,customValues:xLabelValues.map(sc),formatter:tickFmt,rich:tickRich}};
  const ySep=(p==='A1')?'':' ';
  const yN={...axisBase,min:sc(.05),max:sc(10),position:'left',
    name:`[H{s|2}SO{s|4}]{s|${p}}${ySep}(cm{u|-3})`,nameLocation:'middle',nameGap:72,nameRotate:90,nameTextStyle:nameStyle,
    axisTick:tick(yTickValues),splitLine:gridStyle,
    axisLabel:{show:true,margin:9,padding:[9,0,0,0],customValues:yLabelValues.map(sc),formatter:tickFmt,rich:tickRich}};
  const xM={...axisBase,min:sc(.5),max:sc(10),position:'top',axisTick:tick(xTickValues),splitLine:{show:false},axisLabel:{show:false}};
  const yM={...axisBase,min:sc(.05),max:sc(10),position:'right',axisTick:tick(yTickValues),splitLine:{show:false},axisLabel:{show:false}};
  const xi=opt.xAxis.length, yi=opt.yAxis.length;
  opt.xAxis.push(xN,xM); opt.yAxis.push(yN,yM);
  const onTop=p==='A4';
  opt.series.push({name:'Major grid',type:'line',xAxisIndex:xi,yAxisIndex:yi,showSymbol:false,silent:true,z:1,data:[],
    markLine:{silent:true,z:1,animation:false,symbol:'none',label:{show:false},lineStyle:{color:GRIDMAJOR,width:1,type:'solid'},
      data:xMajorGrid.map(v=>({xAxis:sc(v)})).concat(yMajorGrid.map(v=>({yAxis:sc(v)})))}});
  opt.series.push({name:'1:1 line',type:'line',xAxisIndex:xi,yAxisIndex:yi,showSymbol:false,silent:true,z:onTop?4:2,
    lineStyle:{color:BLUE,width:1.2},itemStyle:{color:BLUE},data:lineEnds.map(v=>[sc(v),sc(v)])});
  opt.series.push({name:'All data',type:'scatter',xAxisIndex:xi,yAxisIndex:yi,symbolSize:13,silent:true,z:3,
    itemStyle:{color:GREY,opacity:1},data:points[p].map(d=>[sc(d[0]),sc(d[1])])});
  opt.series.push({name:'Error',type:'custom',xAxisIndex:xi,yAxisIndex:yi,z:5,silent:true,encode:{x:0,y:[1,2]},
    data:xMedian.map((x,k)=>[sc(x),sc(lo[p][k]),sc(hi[p][k])]),
    renderItem:(params,api)=>{
      const a=api.coord([api.value(0),api.value(1)]),b=api.coord([api.value(0),api.value(2)]),c=7.5;
      const st={stroke:'#111',lineWidth:1.2,fill:null};
      return {type:'group',children:[
        {type:'line',shape:{x1:a[0],y1:a[1],x2:b[0],y2:b[1]},style:st},
        {type:'line',shape:{x1:a[0]-c,y1:a[1],x2:a[0]+c,y2:a[1]},style:st},
        {type:'line',shape:{x1:b[0]-c,y1:b[1],x2:b[0]+c,y2:b[1]},style:st}]};
    }});
  opt.series.push({name:'Median',type:'scatter',xAxisIndex:xi,yAxisIndex:yi,symbol:'diamond',symbolSize:[12,16],silent:true,z:6,
    itemStyle:{color:'#000',opacity:1},data:xMedian.map((x,k)=>[sc(x),sc(med[p][k])])});
});
const chart=echarts.init(document.getElementById('c'),null,{renderer:'canvas',width:2067,height:1130});
chart.setOption(opt);
</script></body></html>
